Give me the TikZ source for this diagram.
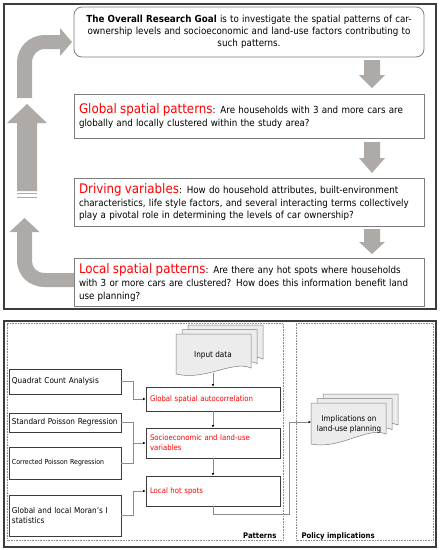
\documentclass[tikz,border=0pt]{standalone}
\usepackage{fontspec}
\setmainfont{DejaVu Sans Condensed}
\usetikzlibrary{arrows.meta}
\definecolor{arrowgray}{RGB}{174,170,167}
\definecolor{boxgray}{RGB}{125,125,125}
\definecolor{framegray}{RGB}{60,60,60}
\definecolor{linegray}{RGB}{140,140,140}
\definecolor{redtxt}{RGB}{255,0,0}
\definecolor{docfill}{RGB}{236,236,236}
\newcommand\blockdown[4]{\fill[arrowgray] (#1-8,#2) -- (#1+8,#2) -- (#1+8,#3) -- (#1+13,#3) -- (#1,#4) -- (#1-13,#3) -- (#1-8,#3) -- cycle;}
\newcommand\redhead[1]{{\color{redtxt}\fontsize{13.2}{13}\selectfont #1}}
\tikzset{
  topbox/.style={draw=boxgray, line width=0.8pt, fill=white, minimum width=350pt, text width=340pt, inner sep=5pt, align=left, font=\fontsize{9.7}{12.7}\selectfont},
  leftbox/.style={draw=framegray, line width=0.6pt, fill=white, minimum width=112pt, text width=106pt, inner sep=3pt, align=left, font=\fontsize{8.1}{9.5}\selectfont},
  redbox/.style={draw=framegray, line width=0.6pt, fill=white, minimum width=134pt, text width=126pt, inner sep=4pt, align=left, text=redtxt, font=\fontsize{7.7}{10}\selectfont},
  conn/.style={draw=linegray, line width=0.5pt, -{Latex[length=2.5pt,width=2.5pt,color=black]}},
  plain/.style={draw=linegray, line width=0.5pt},
  doc/.style={draw=boxgray, line width=0.5pt, fill=docfill},
  dotbox/.style={draw=linegray, line width=0.6pt, dash pattern=on 0.7pt off 0.9pt},
}
\begin{document}
\begin{tikzpicture}[x=1pt,y=-1pt]
\useasboundingbox (0,0) rectangle (440,550);
\fill[white] (0,0) rectangle (440,550);
% ---------- top panel ----------
\draw[framegray, line width=1.2pt] (4,4) rectangle (436,309);
\node[topbox, rounded corners=8pt, minimum height=50pt, align=center, font=\fontsize{9.7}{11.7}\selectfont] (goal) at (249,32)
 {\mbox{\textbf{The Overall Research Goal} is to investigate the spatial patterns of car-}\\\mbox{ownership levels and socioeconomic and land-use factors contributing to}\\\mbox{such patterns.}};
\node[topbox, minimum height=44pt] (glob) at (249,116)
 {\mbox{\redhead{Global spatial patterns}: Are households with 3 and more cars are}\\\mbox{globally and locally clustered within the study area?}};
\node[topbox, minimum height=48pt] (drive) at (249,202)
 {\mbox{\redhead{Driving variables}: How do household attributes, built-environment}\\\mbox{characteristics, life style factors, and several interacting terms collectively}\\\mbox{play a pivotal role in determining the levels of car ownership?}};
\node[topbox, minimum height=47pt] (local) at (249,282.5)
 {\mbox{\redhead{Local spatial patterns}: Are there any hot spots where households}\\\mbox{with 3 or more cars are clustered? How does this information benefit land}\\\mbox{use planning?}};
\blockdown{372}{60}{75}{88}
\blockdown{372}{142}{158}{173}
\blockdown{372}{229}{242}{254}
% bent arrow into goal
\fill[arrowgray] (17,98) -- (17,63) .. controls (17,47) and (29,35) .. (45,35) -- (60,35) -- (60,28) -- (72,42) -- (60,56) -- (60,49) -- (45,49) .. controls (37,49) and (32,55) .. (32,63) -- (32,98) -- cycle;
% big striped up arrow
\fill[arrowgray] (17,191) -- (17,123) -- (7,123) -- (27,104) -- (47,123) -- (37,123) -- (37,191) -- cycle;
\fill[arrowgray] (17,192.6) rectangle (37,194.2);
\fill[arrowgray] (17,196.6) rectangle (37,198.2);
% U-turn arrow from local
\fill[arrowgray] (74,273) -- (45,273) .. controls (37,273) and (32,268) .. (32,261) -- (32,232) -- (39.5,232) -- (24.5,218) -- (9.5,232) -- (17,232) -- (17,260) .. controls (17,276) and (29,287) .. (45,287) -- (74,287) -- cycle;
% ---------- bottom panel ----------
\draw[framegray, line width=1.2pt] (4,321) rectangle (436,547);
\draw[dotbox] (7,323.5) rectangle (283,540.5);
\draw[dotbox] (296,323.5) rectangle (433,540.5);
\node[anchor=base east, font=\bfseries\fontsize{7.7}{9}\selectfont] (patlab) at (280,538) {Patterns};
\node[anchor=base west, font=\bfseries\fontsize{7.7}{9}\selectfont] (pollab) at (298,538) {Policy implications};
% input data stack
\draw[doc] (188,325) -- (263,325) -- (263,359) .. controls (244,350) and (218,372) .. (188,365) -- cycle;
\draw[doc] (182,329.5) -- (257,329.5) -- (257,363.5) .. controls (238,355) and (212,376) .. (182,369.5) -- cycle;
\draw[doc] (176,334) -- (251,334) -- (251,368) .. controls (232,360) and (206,381) .. (176,374) -- cycle;
\node[font=\fontsize{8.1}{9.5}\selectfont] (input) at (213,355) {Input data};
\coordinate (inbot) at (213,372.5);
% implications stack
\draw[doc] (323,394) -- (398,394) -- (398,425) .. controls (380,417) and (352,438) .. (323,432) -- cycle;
\draw[doc] (317,398.5) -- (392,398.5) -- (392,429.5) .. controls (374,421.5) and (346,442.5) .. (317,436.5) -- cycle;
\draw[doc] (311,403) -- (386,403) -- (386,434) .. controls (368,426) and (340,450) .. (311,444) -- cycle;
\node[font=\fontsize{8}{10}\selectfont, align=center] (impl) at (349,424.5) {Implications on\\land-use planning};
\coordinate (implin) at (311,422);
% left method boxes
\node[leftbox, minimum height=25pt] (quad) at (65,381.5) {Quadrat Count Analysis};
\node[leftbox, minimum height=19pt] (std) at (65,422.5) {Standard Poisson Regression};
\node[leftbox, minimum height=32pt, font=\fontsize{6.9}{8}\selectfont] (corr) at (65,463) {Corrected Poisson Regression};
\node[leftbox, minimum height=41pt] (moran) at (65,515.5) {Global and local Moran’s I\\statistics};
% red pattern boxes
\node[redbox, minimum height=24pt] (gsa) at (213,399) {Global spatial autocorrelation};
\node[redbox, minimum height=30pt] (socio) at (213,443) {Socioeconomic and land-use\\variables};
\node[redbox, minimum height=30pt] (hot) at (213,491) {Local hot spots};
% connectors
\draw[conn] (inbot) -- (gsa.north);
\draw[conn] (gsa.south) -- (socio.north);
\draw[conn] (socio.south) -- (hot.north);
\draw[conn] (quad.east) -- ++(12,0) |- (gsa.west);
\draw[plain] (std.east) -- ++(12,0) coordinate (j1) |- (corr.east);
\draw[conn] (j1 |- socio.west) -- (socio.west);
\draw[conn] (moran.east) -- ++(12,0) |- (hot.west);
\coordinate (bend) at (289,514);
\draw[conn] (hot.south) |- (bend) |- (implin);
\end{tikzpicture}
\end{document}
